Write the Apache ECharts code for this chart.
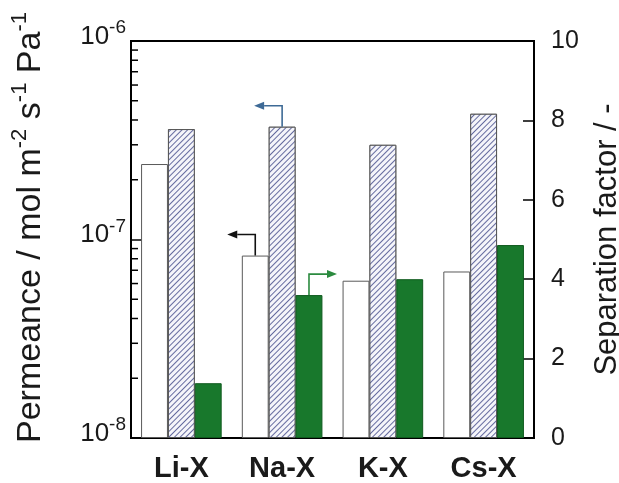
<!DOCTYPE html>
<html>
<head>
<meta charset="utf-8">
<script src="https://cdn.jsdelivr.net/npm/echarts@6/dist/echarts.min.js"></script>
<style>
  html, body { margin: 0; padding: 0; background: #ffffff; }
  #chart { width: 619px; height: 483px; }
</style>
</head>
<body>
<div id="chart"></div>
<script>
// Zeolite membranes exchanged with different cations
const categories = ['Li-X', 'Na-X', 'K-X', 'Cs-X'];
// Permeance of the slower gas (open bars), mol m-2 s-1 Pa-1
const permeanceOpen = [2.4e-7, 8.3e-8, 6.2e-8, 6.9e-8];
// Permeance of the faster gas (hatched bars), mol m-2 s-1 Pa-1
const permeanceHatched = [3.6e-7, 3.7e-7, 3.0e-7, 4.3e-7];
// Separation factor (filled bars)
const separationFactor = [1.38, 3.6, 4.0, 4.86];

// Axis ranges and ticks
const permeanceRange = [1e-8, 1e-6];
const factorRange = [0, 10];
const factorStep = 2;
const permeanceMinorTicks = [
  2e-8, 3e-8, 4e-8, 5e-8, 6e-8, 7e-8, 8e-8, 9e-8,
  2e-7, 3e-7, 4e-7, 5e-7, 6e-7, 7e-7, 8e-7, 9e-7
];

const FONT = '"Liberation Sans", Arial, sans-serif';
const INK = '#1a1a1a';

const chart = echarts.init(document.getElementById('chart'), null, { renderer: 'canvas' });

const option = {
  animation: false,
  backgroundColor: '#ffffff',
  grid: {
    left: 131, right: 85, top: 41, bottom: 45,
    outerBoundsMode: 'none',
    containLabel: false,
    show: true, borderColor: '#000', borderWidth: 2, backgroundColor: 'transparent'
  },
  xAxis: {
    type: 'category',
    data: categories,
    axisLine: { lineStyle: { color: '#000', width: 2 } },
    axisTick: { show: false },
    axisLabel: {
      margin: 16,
      fontFamily: FONT, fontSize: 29, fontWeight: 'bold', color: INK
    }
  },
  yAxis: [
    {
      type: 'log',
      logBase: 10,
      min: permeanceRange[0],
      max: permeanceRange[1],
      startValue: permeanceRange[0],
      splitNumber: 2,
      splitLine: { show: false },
      axisLine: { show: true, lineStyle: { color: '#000', width: 2 } },
      axisTick: { show: true, inside: true, length: 13, lineStyle: { color: '#000', width: 1.5 } },
      axisLabel: {
        margin: 5,
        padding: [0, 0, 9, 0],
        formatter: function (v) {
          const e = Math.round(Math.log10(v));
          return '{b|10}{s|' + e + '}';
        },
        rich: {
          b: { fontFamily: FONT, fontSize: 26, color: INK, lineHeight: 36, verticalAlign: 'middle' },
          s: { fontFamily: FONT, fontSize: 19, color: INK, lineHeight: 14, verticalAlign: 'top' }
        }
      },
      name: '{t|Permeance / mol m}{u|-2}{t| s}{u|-1}{t| Pa}{u|-1}',
      nameLocation: 'middle',
      nameRotate: 90,
      nameGap: 78,
      nameTextStyle: {
        padding: [0, 0, 0, 24],
        rich: {
          t: { fontFamily: FONT, fontSize: 34, color: INK, lineHeight: 44, verticalAlign: 'middle' },
          u: { fontFamily: FONT, fontSize: 22, color: INK, lineHeight: 20, verticalAlign: 'top' }
        }
      }
    },
    {
      type: 'value',
      min: factorRange[0],
      max: factorRange[1],
      interval: factorStep,
      position: 'right',
      splitLine: { show: false },
      axisLine: { show: true, lineStyle: { color: '#000', width: 2 } },
      axisTick: { show: true, inside: true, length: 11, lineStyle: { color: '#000', width: 1.5 } },
      axisLabel: { margin: 17, fontFamily: FONT, fontSize: 25, color: INK },
      name: 'Separation factor / -',
      nameLocation: 'middle',
      nameRotate: 90,
      nameGap: 51,
      nameTextStyle: { fontFamily: FONT, fontSize: 31, lineHeight: 36, color: INK }
    }
  ],
  series: [
    {
      name: 'permeance-open',
      type: 'bar',
      yAxisIndex: 0,
      data: permeanceOpen,
      barGap: '0%',
      barCategoryGap: '20%',
      itemStyle: { color: '#ffffff', borderColor: '#5a5a5a', borderWidth: 1 }
    },
    {
      name: 'permeance-hatched',
      type: 'bar',
      yAxisIndex: 0,
      data: permeanceHatched,
      barGap: '0%',
      barCategoryGap: '20%',
      itemStyle: {
        color: '#ffffff',
        borderColor: '#555555',
        borderWidth: 1,
        decal: {
          symbol: 'rect',
          symbolSize: 1,
          color: '#656b9f',
          backgroundColor: '#f5f5fa',
          dashArrayX: [1, 0],
          dashArrayY: [1, 3],
          rotation: -Math.PI / 4
        }
      }
    },
    {
      name: 'separation-factor',
      type: 'bar',
      yAxisIndex: 1,
      data: separationFactor,
      barGap: '0%',
      barCategoryGap: '20%',
      itemStyle: { color: '#18782c', borderColor: '#0f5a1e', borderWidth: 1 }
    },
    {
      // log-spaced minor ticks along the permeance axis
      name: 'permeance-minor-ticks',
      type: 'custom',
      yAxisIndex: 0,
      silent: true,
      z: 10,
      data: permeanceMinorTicks.map(v => [0, v]),
      renderItem: function (params, api) {
        const y = api.coord([api.value(0), api.value(1)])[1];
        const x0 = params.coordSys.x;
        return {
          type: 'line',
          shape: { x1: x0, y1: y, x2: x0 + 7, y2: y },
          style: { stroke: '#000', lineWidth: 1.5 }
        };
      }
    }
  ]
};

chart.setOption(option);

// Direction arrows on the Na-X group: which axis each bar type belongs to
function barTop(seriesIndex, dataIndex) {
  const layout = chart.getModel().getSeriesByIndex(seriesIndex).getData().getItemLayout(dataIndex);
  return [layout.x + layout.width / 2, layout.y + layout.height];
}

function arrow(start, dir, color) {
  const rise = 21, run = 28, head = 10, half = 4;
  const corner = [start[0], start[1] - rise];
  const tip = [corner[0] + dir * run, corner[1]];
  const neck = [tip[0] - dir * head, tip[1]];
  return [
    {
      type: 'polyline',
      shape: { points: [start, corner, neck] },
      style: { stroke: color, lineWidth: 1.6, fill: null },
      z: 20
    },
    {
      type: 'polygon',
      shape: { points: [tip, [neck[0], neck[1] - half], [neck[0], neck[1] + half]] },
      style: { fill: color },
      z: 20
    }
  ];
}

const arrowGroup = 1; // Na-X
chart.setOption({
  graphic: [].concat(
    arrow(barTop(0, arrowGroup), -1, '#111111'),
    arrow(barTop(1, arrowGroup), -1, '#3e6a96'),
    arrow(barTop(2, arrowGroup), 1, '#2b8a3f')
  )
});
</script>
</body>
</html>
